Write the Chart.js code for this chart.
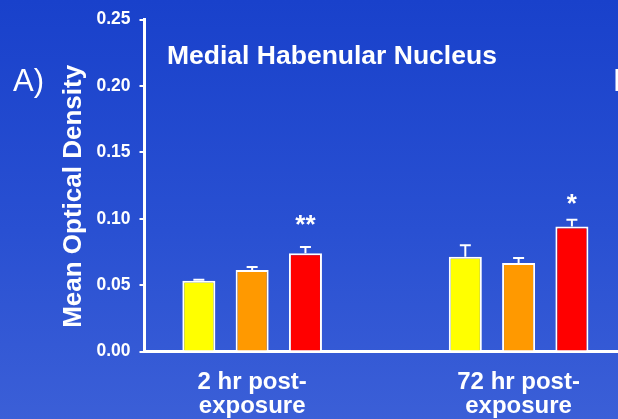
<!DOCTYPE html>
<html><head><meta charset="utf-8">
<script src="https://cdn.jsdelivr.net/npm/chart.js@4"></script>
<style>
html,body{margin:0;padding:0;width:618px;height:419px;overflow:hidden;}
body{background:linear-gradient(to bottom,#1941cb 0%,#2950d2 55%,#3b5fd7 100%);}
#wrap{position:relative;width:618px;height:419px;}
canvas{display:block;}
</style></head><body>
<div id="wrap"><canvas id="c" width="618" height="419"></canvas></div>
<script>
const categories = [['2 hr post-','exposure'],['72 hr post-','exposure']];
const seriesNames = ['Series 1','Series 2','Series 3'];
const yellowValues = [0.0533, 0.0714];
const yellowErrors = [0.0007, 0.0087];
const orangeValues = [0.0615, 0.0667];
const orangeErrors = [0.0022, 0.0037];
const redValues = [0.0741, 0.0942];
const redErrors = [0.0047, 0.0050];
const yTicks = [0, 0.05, 0.10, 0.15, 0.20, 0.25];
const sigLabels = ['**','*'];
const sigLevels = [0.0894, 0.1048];

const FONT = '"Liberation Sans", Arial, Helvetica, sans-serif';
Chart.defaults.font.family = FONT;

const toPoints = vals => vals.map((v,i)=>({x:i, y:v}));
const seriesValues = [yellowValues, orangeValues, redValues];
const seriesErrors = [yellowErrors, orangeErrors, redErrors];
const seriesColors = ['#ffff00','#ff9900','#ff0000'];

const overlay = {
  id:'overlay',
  afterDatasetsDraw(chart){
    const ctx = chart.ctx, ys = chart.scales.y, area = chart.chartArea;
    ctx.save();
    ctx.strokeStyle = '#ffffff';
    ctx.lineWidth = 2;
    chart.data.datasets.forEach((ds,di)=>{
      const meta = chart.getDatasetMeta(di);
      meta.data.forEach((bar,i)=>{
        const v = seriesValues[di][i], e = seriesErrors[di][i];
        const base = ys.getPixelForValue(v), top = ys.getPixelForValue(v+e);
        ctx.beginPath();
        ctx.moveTo(bar.x, base); ctx.lineTo(bar.x, top);
        ctx.moveTo(bar.x-5.5, top); ctx.lineTo(bar.x+5.5, top);
        ctx.stroke();
      });
    });
    const redMeta = chart.getDatasetMeta(2);
    ctx.fillStyle = '#ffffff';
    ctx.textAlign = 'center';
    ctx.textBaseline = 'alphabetic';
    ctx.font = 'bold 26px ' + FONT;
    sigLabels.forEach((t,i)=>{
      ctx.fillText(t, redMeta.data[i].x, ys.getPixelForValue(sigLevels[i]));
    });
    ctx.textAlign = 'left';
    ctx.font = 'bold 26.5px ' + FONT;
    ctx.fillText('Medial Habenular Nucleus', area.left + 22.5, 63.5);
    ctx.font = '31px ' + FONT;
    ctx.fillText('A)', 13, 90.5);
    ctx.fillText('B)', 613, 91);
    ctx.restore();
  }
};

new Chart(document.getElementById('c'), {
  type:'bar',
  data:{
    datasets: seriesValues.map((vals,di)=>({
      label: seriesNames[di],
      data: toPoints(vals),
      backgroundColor: seriesColors[di],
      borderColor:'#ffffff',
      borderWidth:2
    }))
  },
  options:{
    responsive:false,
    animation:false,
    devicePixelRatio:1,
    layout:{padding:{left:0,right:0,top:15.7,bottom:0}},
    plugins:{legend:{display:false}, tooltip:{enabled:false}},
    datasets:{bar:{categoryPercentage:0.6, barPercentage:0.62}},
    scales:{
      x:{
        type:'linear', min:-0.404, max:1.373, offset:false,
        grid:{display:false, offset:false},
        border:{display:true, color:'#ffffff', width:3},
        afterBuildTicks: s => { s.ticks = categories.map((c,i)=>({value:i})); },
        afterFit: s => { s.height = 419 - 351.6; },
        ticks:{
          color:'#ffffff', autoSkip:false, maxRotation:0, minRotation:0, padding:11,
          font:{size:24, weight:'bold', lineHeight:1.0},
          callback: v => categories[v] !== undefined ? categories[v] : ''
        }
      },
      y:{
        min:0, max:0.25,
        afterBuildTicks: s => { s.ticks = yTicks.map(v=>({value:v})); },
        afterFit: s => { s.width = 144.5; },
        grid:{display:true, drawOnChartArea:false, drawTicks:true, tickLength:5, color:'#ffffff', lineWidth:2},
        border:{display:true, color:'#ffffff', width:3},
        ticks:{color:'#ffffff', padding:9, font:{size:17.5, weight:'bold'}, callback: v => Number(v).toFixed(2)},
        title:{display:true, text:'Mean Optical Density   ', color:'#ffffff',
               font:{size:26, weight:'bold', lineHeight:1.2}, padding:{top:58, bottom:0}}
      }
    }
  },
  plugins:[overlay]
});
</script>
</body></html>
